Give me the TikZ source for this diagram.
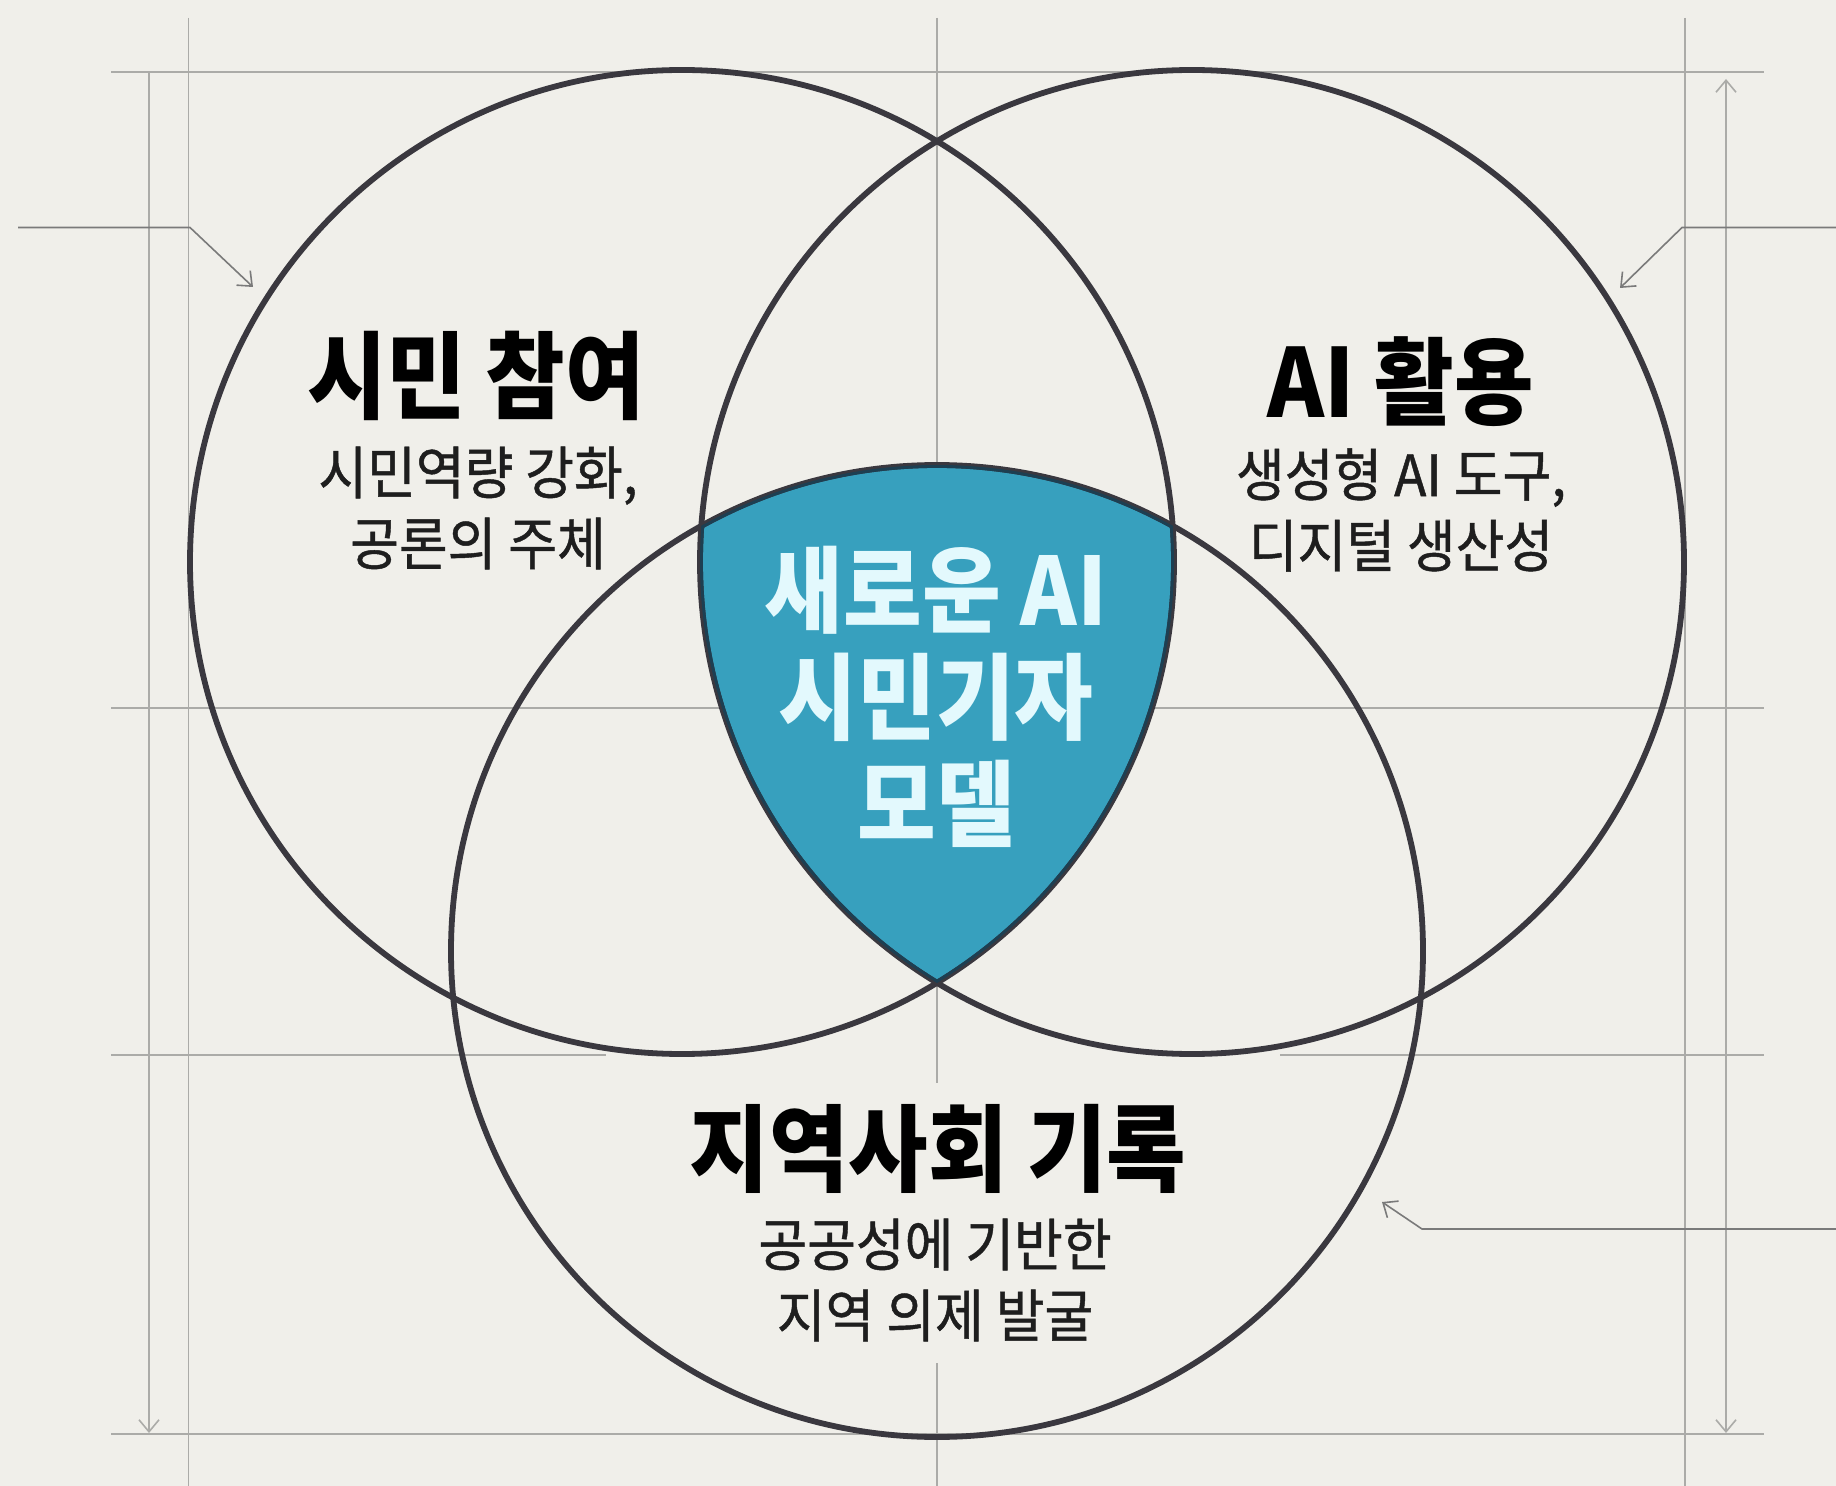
\documentclass[tikz,border=0pt]{standalone}
\usepackage{fontspec}
\usepackage{xcolor}
\usetikzlibrary{arrows.meta}
\newfontfamily\krfont[FakeStretch=0.91]{Noto Sans CJK KR}
\newfontfamily\krsub[FakeStretch=0.93,FakeBold=0.8]{Noto Sans CJK KR}
\definecolor{paper}{HTML}{F0EFEA}
\definecolor{gridgray}{HTML}{ABABA8}
\definecolor{leadgray}{HTML}{7A7A7A}
\definecolor{ringgray}{HTML}{3A383F}
\definecolor{tealfill}{HTML}{37A0BE}
\definecolor{tealedge}{HTML}{1D3F52}
\definecolor{coretext}{HTML}{E3F9FD}
\definecolor{subgray}{HTML}{1E1E1E}
\tikzset{
    ring/.style = {draw=ringgray, line width=2.9pt},
    ringin/.style = {draw=tealedge, line width=2.9pt},
    gridln/.style = {draw=gridgray, line width=0.9pt},
    dimln/.style = {draw=gridgray, line width=0.8pt},
    leader/.style = {draw=leadgray, line width=0.8pt, -{Straight Barb[length=6pt,width=10pt]}},
    maintxt/.style = {inner sep=0pt, align=center, text=black, font=\krfont\bfseries\fontsize{47.5}{50}\selectfont},
    subtxt/.style = {inner sep=0pt, align=center, text=subgray, font=\krsub\fontsize{28.5}{35.5}\selectfont},
    coretxt/.style = {inner sep=0pt, align=center, text=coretext, font=\krfont\bfseries\fontsize{47}{53.5}\selectfont},
}
\begin{document}
\begin{tikzpicture}[x=0.5pt, y=-0.5pt]
\useasboundingbox[fill=paper] (0,0) rectangle (1836,1486);
% grid
\foreach \gy in {72,708,1434}
    \draw[gridln] (111,\gy) -- (1764,\gy);
\draw[gridln] (111,1055) -- (606,1055);
\draw[gridln] (1280,1055) -- (1764,1055);
\foreach \gx in {188.5,1685}
    \draw[gridln] (\gx,18) -- (\gx,1486);
\draw[gridln] (937,18) -- (937,1083);
\draw[gridln] (937,1363) -- (937,1486);
% dimension lines
\draw[dimln,-{Straight Barb[length=6pt,width=10pt]}] (149,72) -- (149,1433);
\draw[dimln,{Straight Barb[length=6pt,width=10pt]}-{Straight Barb[length=6pt,width=10pt]}] (1726,79) -- (1726,1433);
% circle centres
\coordinate (cL) at (682,562);
\coordinate (cR) at (1192,562);
\coordinate (cB) at (937,951);
% centre region
\begin{scope}
    \clip (cL) circle[radius=492];
    \clip (cR) circle[radius=492];
    \fill[tealfill] (cB) circle[radius=486];
\end{scope}
\draw[ring] (cL) circle[radius=492];
\draw[ring] (cR) circle[radius=492];
\draw[ring] (cB) circle[radius=486];
\begin{scope}
    \clip (cL) circle[radius=492];
    \clip (cR) circle[radius=492];
    \clip (cB) circle[radius=486];
    \draw[ringin] (cL) circle[radius=492];
    \draw[ringin] (cR) circle[radius=492];
    \draw[ringin] (cB) circle[radius=486];
\end{scope}
% leaders
\coordinate (inL) at (18,227.5);
\coordinate (bendL) at (190,227.5);
\coordinate (tipL) at (253,287);
\coordinate (inR) at (1836,227.5);
\coordinate (bendR) at (1682,227.5);
\coordinate (tipR) at (1620,288);
\coordinate (inB) at (1836,1229);
\coordinate (bendB) at (1422,1229);
\coordinate (tipB) at (1382,1202);
\draw[leader] (inL) -- (bendL) -- (tipL);
\draw[leader] (inR) -- (bendR) -- (tipR);
\draw[leader] (inB) -- (bendB) -- (tipB);
%
\node[maintxt] (civic) at (476,376) {시민 참여};
\node[subtxt] (civicsub) at (478,508) {시민역량 강화,\\공론의 주체};
\node[maintxt] (ai) at (1401,382) {AI 활용};
\node[subtxt] (aisub) at (1401,510) {생성형 AI 도구,\\디지털 생산성};
\node[maintxt] (local) at (938,1149) {지역사회 기록};
\node[subtxt] (localsub) at (935,1280) {공공성에 기반한\\지역 의제 발굴};
\node[coretxt] (model) at (936,697) {새로운 AI\\시민기자\\모델};
\end{tikzpicture}
\end{document}
